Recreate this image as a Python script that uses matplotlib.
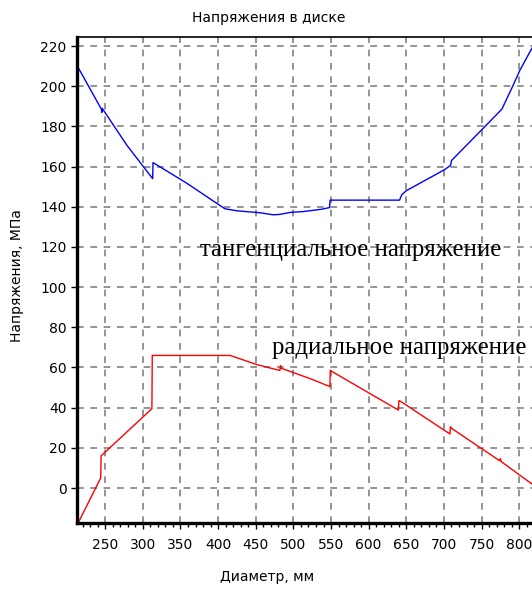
import matplotlib.pyplot as plt
from matplotlib.ticker import MultipleLocator

# тангенциальное напряжение по диаметру диска
tang_d = [213, 245, 245.5, 246, 279, 313, 313.5, 358, 409, 425, 456, 473, 482,
          496, 513, 538, 548, 548.8, 641, 644, 650, 701, 709, 710, 752, 777,
          792, 801, 817]
tang_s = [210, 188.5, 187, 189, 170.5, 154, 162, 151.8, 139, 138, 137, 136, 136.2,
          137.2, 137.6, 138.8, 139.6, 143.3, 143.3, 146, 148, 158.5, 160.7, 163, 179, 188.6,
          200.5, 208, 219]

# радиальное напряжение
rad_d = [214.5, 244, 244.5, 279, 312, 312.5, 416, 451, 482, 482.8, 484, 522,
         548.5, 549, 639.5, 640.2, 643, 708, 708.6, 711, 774, 775, 776, 817]
rad_s = [-17, 5, 16, 28, 39.5, 66, 66, 61.5, 58.5, 61, 59.6, 54.5,
         50.5, 58.5, 38.8, 43.5, 43, 26.9, 30.5, 29.5, 13.6, 14.6, 13.2, 2]

x_ticks = [250, 300, 350, 400, 450, 500, 550, 600, 650, 700, 750, 800]
y_ticks = [0, 20, 40, 60, 80, 100, 120, 140, 160, 180, 200, 220]

W, H = 532, 593
fig = plt.figure(figsize=(W / 100, H / 100), dpi=100)
ax = fig.add_axes([77 / W, 1 - 523 / H, (W - 77) / W, (523 - 37) / H])

ax.plot(tang_d, tang_s, color='#0000ff', lw=1.0)
ax.plot(rad_d, rad_s, color='#ff0000', lw=1.0)

ax.set_xlim(212.5, 817)
ax.set_ylim(-17.4, 224.5)
ax.set_xticks(x_ticks)
ax.set_yticks(y_ticks)
ax.xaxis.set_minor_locator(MultipleLocator(10))
ax.tick_params(axis='both', which='major', direction='out', length=4, width=1,
               labelsize=10, colors='black')
ax.tick_params(axis='x', which='major', pad=7)
ax.tick_params(axis='x', which='minor', direction='out', length=3, width=1)
for lbl in ax.get_xticklabels() + ax.get_yticklabels():
    lbl.set_family('DejaVu Sans')

ax.grid(True, which='major', color='#808080', linestyle=(0, (4, 4)), lw=1.2)

ax.spines['left'].set_linewidth(2.4)
ax.spines['bottom'].set_linewidth(2.4)
ax.spines['top'].set_linewidth(1.2)
ax.spines['right'].set_visible(False)

ax.text(376, 118.5, 'тангенциальное напряжение', family='Liberation Serif',
        fontsize=17.8, va='center', ha='left')
ax.text(472, 69.5, 'радиальное напряжение', family='Liberation Serif',
        fontsize=17.8, va='center', ha='left')

fig.text(269 / W, 1 - 18 / H, 'Напряжения в диске', ha='center', va='center',
         fontsize=10, family='DejaVu Sans')
fig.text(267 / W, 1 - 577 / H, 'Диаметр, мм', ha='center', va='center',
         fontsize=10, family='DejaVu Sans')
fig.text(17 / W, 1 - 276 / H, 'Напряжения, МПа', ha='center', va='center',
         rotation=90, fontsize=10, family='DejaVu Sans')

fig.savefig('out.png', dpi=100)
